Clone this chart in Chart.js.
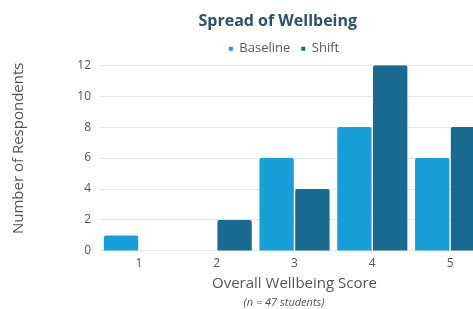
<!DOCTYPE html>
<html><head><meta charset="utf-8">
<script src="https://cdn.jsdelivr.net/npm/chart.js@4.4.1/dist/chart.umd.min.js"></script>
<style>
html,body{margin:0;padding:0;background:#fff;overflow:hidden;width:473px;height:309px;}
#wrap{position:absolute;left:0;top:0;width:568px;height:309px;}
</style></head><body>
<div id="wrap"><canvas id="c" width="568" height="309"></canvas></div>
<script>
const categories = ["1", "2", "3", "4", "5"];
const baseline = [1, 0, 6, 8, 6];
const shift = [0, 2, 4, 12, 8];
const yTicks = [0, 2, 4, 6, 8, 10, 12];

Chart.defaults.font.family = "'Open Sans', sans-serif";
new Chart(document.getElementById('c'), {
  type: 'bar',
  data: {
    labels: categories,
    datasets: [
      {label: 'Baseline', data: baseline, backgroundColor: '#169fd9', borderRadius: 2, categoryPercentage: 0.92, barPercentage: 0.96},
      {label: 'Shift', data: shift, backgroundColor: '#196a90', borderRadius: 2, categoryPercentage: 0.92, barPercentage: 0.96}
    ]
  },
  options: {
    responsive: false,
    animation: false,
    layout: {padding: {top: 4, right: 0, left: 0, bottom: 0}},
    plugins: {
      title: {display: true, text: 'Spread of Wellbeing   ', color: '#2d4f6e', font: {size: 16, weight: 'bold'}, padding: {top: 8, bottom: 0}},
      legend: {display: true, labels: {usePointStyle: true, pointStyle: 'rect', boxWidth: 4, boxHeight: 4, color: '#556', font: {size: 13}, padding: 11}},
      subtitle: {display: true, position: 'bottom', text: '(n = 47 students)', color: '#555', font: {size: 11, style: 'italic'}, padding: {top: 4, bottom: 0}},
      tooltip: {enabled: false}
    },
    scales: {
      x: {
        grid: {display: false, drawTicks: false},
        border: {display: false},
        ticks: {color: '#555', font: {size: 12}, padding: 5},
        title: {display: true, text: 'Overall Wellbeing Score', color: '#555', font: {size: 15, lineHeight: 1.1}, padding: {top: 0, bottom: 0}}
      },
      y: {
        min: 0, max: 12,
        afterBuildTicks: (s) => { s.ticks = yTicks.map(v => ({value: v})); },
        afterFit: (s) => { s.width = 100; },
        grid: {color: '#e3e6ea', drawTicks: false},
        border: {display: false},
        ticks: {color: '#555', font: {size: 12}, padding: 9},
        title: {display: true, text: '     Number of Respondents', color: '#555', font: {size: 15}, padding: {top: 10, bottom: 0}}
      },
      yr: {
        position: 'right',
        display: true,
        afterFit: (s) => { s.width = 79; },
        grid: {display: false},
        border: {display: false},
        ticks: {display: false}
      }
    }
  }
});
</script>
</body></html>
